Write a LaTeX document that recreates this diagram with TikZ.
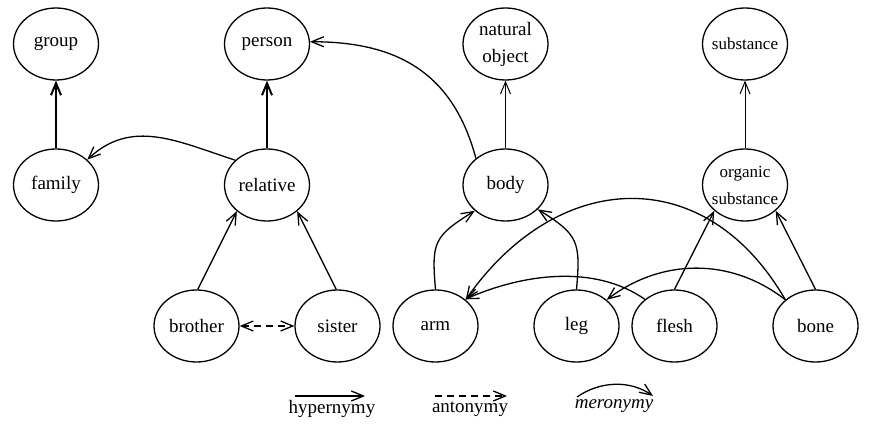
\documentclass[tikz,border=0pt]{standalone}
\usepackage{fontspec}
\setmainfont{Liberation Serif}
\usetikzlibrary{shapes.geometric,arrows.meta}
\begin{document}
\begin{tikzpicture}[x=1pt,y=1pt,
  concept/.style={draw, ellipse, line width=1.3pt, minimum width=85pt, minimum height=72pt, inner sep=-5pt, align=center, font=\fontsize{19}{27}\selectfont},
  smalltext/.style={font=\fontsize{17}{27}\selectfont},
  tip/.tip={Straight Barb[length=12pt,width=10pt]},
  rel/.style={line width=1.3pt, -tip},
  thickrel/.style={rel, line width=2pt},
  thinrel/.style={rel, line width=1pt},
  anto/.style={line width=1.3pt, dash pattern=on 7pt off 5pt},
  legendtext/.style={font=\fontsize{19}{22}\selectfont}
]
\useasboundingbox (0,0) rectangle (872,434);

% concepts
\node[concept] (group) at (56,390) {group};
\node[concept] (person) at (267,390) {person};
\node[concept] (natural) at (505.5,390) {natural\\object};
\node[concept, smalltext] (substance) at (745,390) {substance};
\node[concept] (family) at (56,249) {family};
\node[concept] (relative) at (267,249) {relative};
\node[concept] (body) at (505.5,249) {body};
\node[concept, smalltext] (organic) at (745,249) {organic\\substance};
\node[concept] (brother) at (196.5,108) {brother};
\node[concept] (sister) at (337.5,108) {sister};
\node[concept] (arm) at (435.5,108) {arm};
\node[concept] (leg) at (576.5,108) {leg};
\node[concept] (flesh) at (674.5,108) {flesh};
\node[concept] (bone) at (815.5,108) {bone};

% hypernymy
\draw[thickrel] (family) -- (group);
\draw[thickrel] (relative) -- (person);
\draw[thinrel] (body) -- (natural);
\draw[thinrel] (organic) -- (substance);
\draw[rel] (brother.88) -- (relative.221);
\draw[rel] (sister.92) -- (relative.319);
\draw[rel] (flesh.90) -- (organic.220);
\draw[rel] (bone.90) -- (organic.320);

% antonymy
\draw[anto, tip-tip] (brother.east) -- (sister.west);

% meronymy
\draw[rel] (relative.142) to[out=162,in=43,distance=61pt] (family.39);
\draw[rel] (body.138) to[out=105,in=0,distance=88pt] (person.3);
\draw[rel] (arm.90) to[out=95,in=212,distance=48pt] (body.220);
\draw[rel] (leg.90) to[out=85,in=328,distance=48pt] (body.323);
\draw[rel] (bone.139) to[out=120,in=55,distance=160pt] (arm.41);
\draw[rel] (bone.139) to[out=142,in=37,distance=69pt] (leg.41);
\draw[rel] (flesh.138) to[out=145,in=24,distance=62pt] (arm.42);

% legend
\coordinate (h1) at (295,38); \coordinate (h2) at (365,38);
\coordinate (a1) at (435,38); \coordinate (a2) at (507,38);
\coordinate (m1) at (577,37); \coordinate (m2) at (653,38);
\draw[rel] (h1) -- (h2);
\draw[anto, -tip] (a1) -- (a2);
\draw[rel] (m1) to[out=35,in=145,distance=28pt] (m2);
\node[legendtext] (hl) at (332,25) {hypernymy};
\node[legendtext] (al) at (470,25) {antonymy};
\node[legendtext] (ml) at (614,28) {\itshape meronymy};
\end{tikzpicture}
\end{document}
